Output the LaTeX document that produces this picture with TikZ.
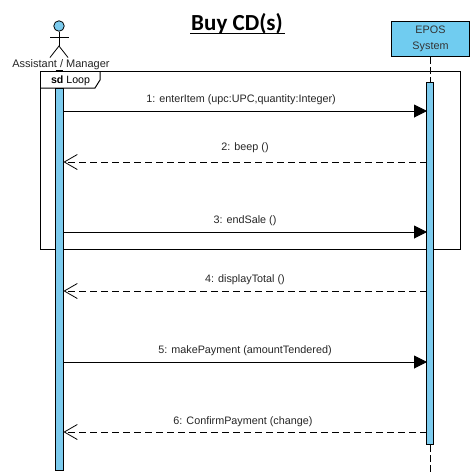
\documentclass[tikz,border=0pt]{standalone}
\usepackage{fontspec}
\setmainfont{Liberation Sans}
\newfontfamily\titlefont{Carlito}
\usetikzlibrary{arrows.meta}
\definecolor{actblue}{HTML}{7CCBEE}
\definecolor{headblue}{HTML}{70CCF0}
\tikzset{
  x=1pt,y=-1pt,
  boxline/.style={draw=black,line width=1pt},
  activation/.style={boxline,fill=actblue},
  lifeline/.style={draw=black,line width=.9pt,dash pattern=on 7pt off 3pt},
  msgcall/.style={draw=black,line width=1pt,-{Triangle[length=13pt,width=13pt,fill=black]}},
  msgreturn/.style={draw=black,line width=.9pt,dash pattern=on 7pt off 4pt,-{Straight Barb[length=13pt,width=15pt,line width=.8pt]}},
  msglabel/.style={font=\fontsize{10.8}{12}\selectfont,text=black!85,inner sep=0pt,anchor=center},
  stick/.style={draw=black,line width=.8pt}
}
\begin{document}
\begin{tikzpicture}
\useasboundingbox (0,0) rectangle (473,475);
\fill[white] (0,0) rectangle (473,475);
% title
\node[inner sep=0pt,font=\titlefont\bfseries\fontsize{23}{26}\selectfont] (title) at (237,23.5) {Buy CD(s)};
\draw[line width=1.3pt] (190,33.5) -- (284.5,33.5);
% frame
\draw[boxline] (40,71) rectangle (460.5,249.5);
\draw[boxline] (40,88) -- (95,88) -- (100,80) -- (100,71);
\node[inner sep=0pt,font=\fontsize{10.6}{12}\selectfont] (frametitle) at (70.5,80.5) {\textbf{sd} Loop};
% actor
\node[circle,draw=black,line width=.8pt,fill=actblue,minimum size=10.5pt,inner sep=0pt] (head) at (59,26) {};
\coordinate (hip) at (59,46);
\coordinate (armL) at (50,37.5);
\coordinate (armR) at (69,37.5);
\coordinate (legL) at (50,57.5);
\coordinate (legR) at (68,57.5);
\draw[stick] (head.south) -- (hip);
\draw[stick] (armL) -- (armR);
\draw[stick] (legL) -- (hip) -- (legR);
\node[inner sep=0pt,font=\fontsize{11}{12}\selectfont,text=black!85] (actor) at (61,64.5) {Assistant / Manager};
% EPOS head
\node[boxline,fill=headblue,minimum width=78pt,minimum height=35pt,inner sep=0pt,align=center,
  font=\fontsize{10.8}{15.5}\selectfont,text=black!80] (epos) at (430.5,39) {EPOS\\System};
% lifelines
\coordinate (lifeEnd) at (430,472);
\draw[lifeline] (epos.south) -- (430.5,82);
\draw[lifeline] (430,445) -- (lifeEnd);
% activations
\draw[line width=1.6pt] (55.5,70.5) -- (63,70.5);
\node[activation,minimum width=7.5pt,minimum height=382pt,inner sep=0pt] (actA) at (59.3,279) {};
\node[activation,minimum width=7pt,minimum height=362pt,inner sep=0pt] (actB) at (430,263) {};
% messages
\foreach \n/\y in {1/111,3/232,5/362}{
  \coordinate (s\n) at (63,\y);
  \coordinate (t\n) at (427,\y);
  \draw[msgcall] (s\n) -- (t\n);
}
\foreach \n/\y in {2/162,4/291,6/432}{
  \coordinate (s\n) at (426.5,\y);
  \coordinate (t\n) at (63.5,\y);
  \draw[msgreturn] (s\n) -- (t\n);
}
\node[msglabel] (m1) at (241,100) {1: enterItem (upc:UPC,quantity:Integer)};
\node[msglabel] (m2) at (245,147.5) {2: beep ()};
\node[msglabel] (m3) at (245,221) {3: endSale ()};
\node[msglabel] (m4) at (245,280) {4: displayTotal ()};
\node[msglabel] (m5) at (245,350.5) {5: makePayment (amountTendered)};
\node[msglabel] (m6) at (243,422) {6: ConfirmPayment (change)};
\end{tikzpicture}
\end{document}
